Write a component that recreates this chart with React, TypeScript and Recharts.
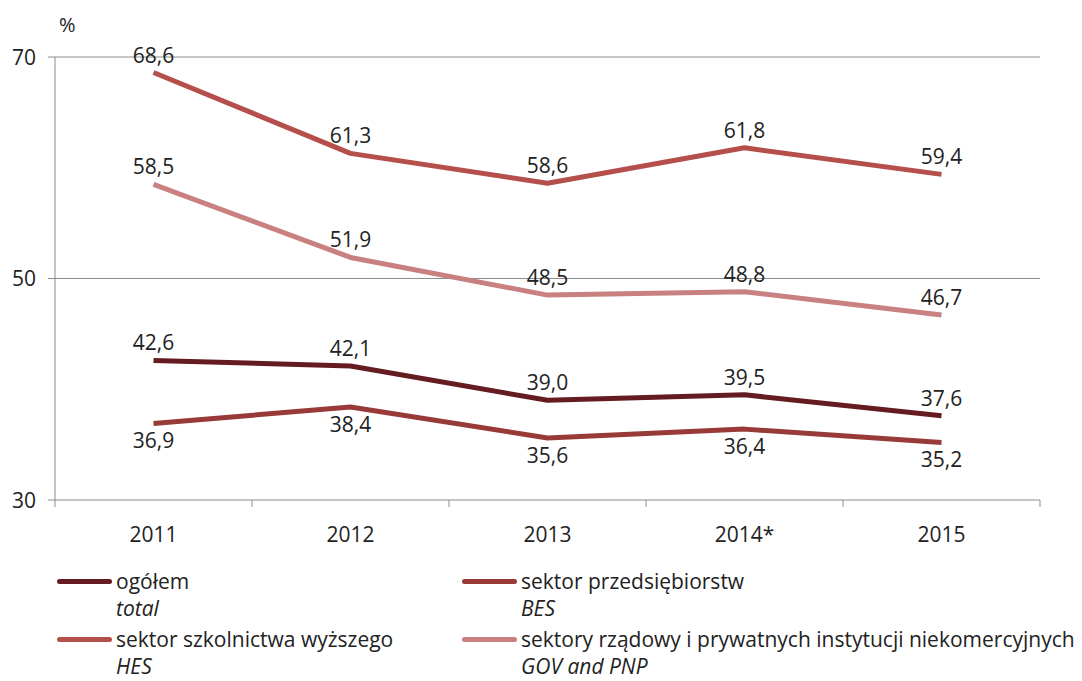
import React from "react";
import { LineChart, Line, XAxis, YAxis, CartesianGrid, LabelList } from "recharts";

const categories = ["2011", "2012", "2013", "2014*", "2015"];
const total = [42.6, 42.1, 39.0, 39.5, 37.6];
const bes = [36.9, 38.4, 35.6, 36.4, 35.2];
const hes = [68.6, 61.3, 58.6, 61.8, 59.4];
const gov = [58.5, 51.9, 48.5, 48.8, 46.7];
const yTicks = [30, 50, 70];

const seriesInfo = [
  { key: "total", name: "ogółem", en: "total", color: "#641c20", pos: "top" },
  { key: "bes", name: "sektor przedsiębiorstw", en: "BES", color: "#973a38", pos: "bottom" },
  { key: "hes", name: "sektor szkolnictwa wyższego", en: "HES", color: "#b54f4c", pos: "top" },
  { key: "gov", name: "sektory rządowy i prywatnych instytucji niekomercyjnych", en: "GOV and PNP", color: "#c98080", pos: "top" },
];

const data = categories.map((c, i) => ({
  x: i + 0.5,
  cat: c,
  total: total[i],
  bes: bes[i],
  hes: hes[i],
  gov: gov[i],
}));

const FONT = "'Open Sans', sans-serif";
const FS = 21;
const fmt = (v: any) => Number(v).toFixed(1).replace(".", ",");

const XTick = (props: any) => {
  const { x, y, payload } = props;
  const v = payload.value;
  if (Number.isInteger(v)) {
    return <line x1={x} x2={x} y1={y - 8} y2={y - 1} stroke="#8c8c8c" strokeWidth={1} />;
  }
  const idx = Math.floor(v);
  return (
    <text x={x} y={y + 34} textAnchor="middle" fontSize={FS} fill="#222" fontFamily={FONT}>
      {categories[idx]}
    </text>
  );
};

const YTick = (props: any) => {
  const { x, y, payload } = props;
  return (
    <text x={x - 10} y={y + 7.5} textAnchor="end" fontSize={FS} fill="#222" fontFamily={FONT}>
      {payload.value}
    </text>
  );
};

function LegendBlock() {
  const item = (s: any) => (
    <div key={s.key} style={{ display: "flex", alignItems: "flex-start", height: 58 }}>
      <div style={{ width: 55, height: 5, background: s.color, borderRadius: 3, marginTop: 10, marginRight: 4, flexShrink: 0 }} />
      <div style={{ whiteSpace: "nowrap" }}>
        <div style={{ lineHeight: "24px" }}>{s.name}</div>
        <div style={{ fontStyle: "italic", lineHeight: "18px", marginTop: 6 }}>{s.en}</div>
      </div>
    </div>
  );
  return (
    <div
      style={{
        position: "absolute",
        left: 49,
        top: 561,
        display: "grid",
        gridTemplateColumns: "405px 615px",
        fontFamily: FONT,
        fontSize: FS,
        color: "#222",
      }}
    >
      {seriesInfo.map(item)}
    </div>
  );
}

export default function App() {
  return (
    <div style={{ position: "relative", width: 1066, height: 673 }}>
      <LineChart
        width={1066}
        height={673}
        data={data}
        margin={{ top: 49, right: 34, left: 0, bottom: 121 }}
      >
        <CartesianGrid horizontal={true} vertical={false} stroke="#8c8c8c" horizontalValues={[50, 70]} />
        <XAxis
          dataKey="x"
          type="number"
          domain={[0, 5]}
          ticks={[0, 0.5, 1, 1.5, 2, 2.5, 3, 3.5, 4, 4.5, 5]}
          interval={0}
          tickLine={false}
          tick={<XTick />}
          stroke="#8c8c8c"
          height={60}
        />
        <YAxis
          type="number"
          domain={[30, 70]}
          ticks={yTicks}
          width={47}
          tickSize={7}
          tick={<YTick />}
          stroke="#8c8c8c"
        />
        {seriesInfo.map((s) => (
          <Line
            key={s.key}
            dataKey={s.key}
            name={s.name}
            stroke={s.color}
            strokeWidth={5}
            dot={false}
            isAnimationActive={false}
            strokeLinejoin="round"
          >
            <LabelList
              dataKey={s.key}
              position={s.pos as any}
              offset={10}
              formatter={fmt}
              style={{ fontSize: FS, fill: "#222", fontFamily: FONT }}
            />
          </Line>
        ))}
      </LineChart>
      <LegendBlock />
      <div style={{ position: "absolute", left: 51, top: 3, fontFamily: FONT, fontSize: 20, color: "#222" }}>%</div>
    </div>
  );
}
